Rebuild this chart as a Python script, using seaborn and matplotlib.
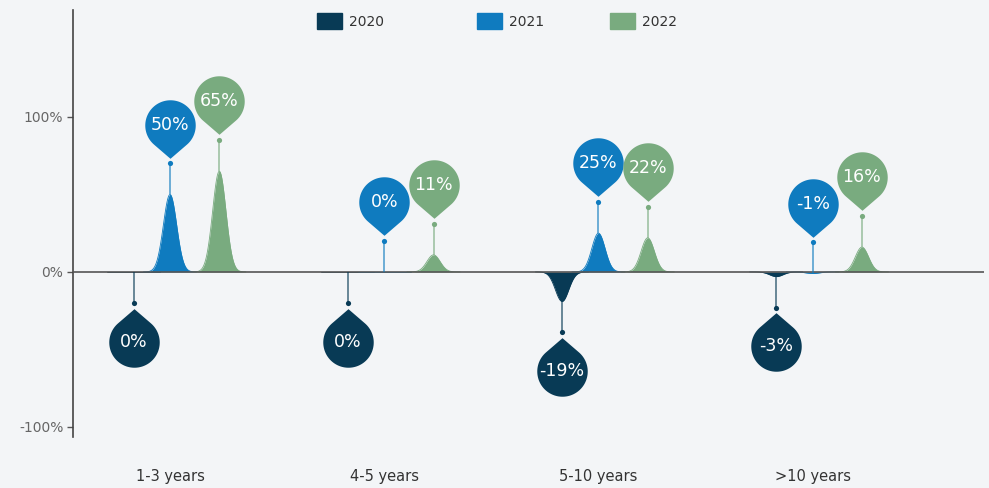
import numpy as np
import pandas as pd
import seaborn as sns
import matplotlib
matplotlib.use("Agg")
import matplotlib.pyplot as plt
from matplotlib.path import Path
from matplotlib.patches import Patch

# data
groups = ["1-3 years", "4-5 years", "5-10 years", ">10 years"]
years = ["2020", "2021", "2022"]
v2020 = [0, 0, -19, -3]
v2021 = [50, 0, 25, -1]
v2022 = [65, 11, 22, 16]
values = {"2020": v2020, "2021": v2021, "2022": v2022}

# styling
colors = {"2020": "#083a55", "2021": "#0f7bbf", "2022": "#79ab7f"}
offsets = {"2020": -0.17, "2021": 0.0, "2022": 0.23}
direction = {"2020": -1, "2021": 1, "2022": 1}   # balloon goes down for 2020
legend_x = {"2020": 0.316, "2021": 0.478, "2022": 0.612}
bg = "#f3f5f7"
sigma = 0.031
balloon_off = 45
dot_off = 20

sns.set_theme(style="white", rc={"figure.facecolor": bg, "axes.facecolor": bg})
plt.rcParams["font.family"] = ["DejaVu Sans"]


def drop_path(flip=False):
    # circle of radius 1 with a point sticking out at distance 1.32
    d = 1.32
    a = np.degrees(np.arccos(1 / d))
    ang = np.radians(np.linspace(-90 + a, 270 - a, 80))
    verts = np.column_stack([np.cos(ang), np.sin(ang)])
    verts = np.vstack([[0, -d], verts, [0, -d]])
    if flip:
        verts[:, 1] *= -1
    return Path(verts, closed=True)


up_drop = drop_path()
down_drop = drop_path(flip=True)

# bell curves for every bar
rows = []
for yr in years:
    for i, v in enumerate(values[yr]):
        xc = i + offsets[yr]
        xs = np.linspace(xc - 4 * sigma, xc + 4 * sigma, 120)
        ys = v * np.exp(-0.5 * ((xs - xc) / sigma) ** 2)
        for x, y in zip(xs, ys):
            rows.append({"x": x, "y": y, "year": yr, "key": f"{yr}-{i}"})
curves = pd.DataFrame(rows)

fig = plt.figure(figsize=(9.89, 4.88), dpi=100)
ax = fig.add_axes([0.0738, 0.1045, 0.9212, 0.875])

sns.lineplot(data=curves, x="x", y="y", hue="year", units="key", estimator=None,
             palette=colors, legend=False, lw=0.6, ax=ax, zorder=2)
for key, part in curves.groupby("key"):
    ax.fill_between(part["x"], 0, part["y"], color=colors[part["year"].iloc[0]],
                    lw=0, zorder=2)

ax.axhline(0, color="#555555", lw=1.2, zorder=3)

for yr in years:
    c = colors[yr]
    d = direction[yr]
    for i, v in enumerate(values[yr]):
        x = i + offsets[yr]
        ax.plot([x, x], [v, v + d * dot_off], color=c, lw=1.1, alpha=0.75,
                zorder=3, solid_capstyle="butt")
        ax.scatter([x], [v + d * dot_off], s=14, color=c, lw=0, zorder=4)
        ax.scatter([x], [v + d * balloon_off], s=2300,
                   marker=up_drop if d > 0 else down_drop,
                   color=c, lw=0, zorder=5)
        ax.text(x, v + d * balloon_off, f"{v}%", color="white", fontsize=12.5,
                fontweight="medium", ha="center", va="center", zorder=6)

ax.set_xlim(-0.453, 3.80)
ax.set_ylim(-106.5, 169)
ax.set_xticks(range(len(groups)))
ax.set_xticklabels(groups, fontsize=10.5, color="#333333")
ax.set_yticks([-100, 0, 100])
ax.set_yticklabels(["-100%", "0%", "100%"], fontsize=10, color="#666666")
ax.tick_params(axis="x", length=0, pad=23)
ax.tick_params(axis="y", length=4, width=1, color="#555555", pad=3, left=True)
ax.set_xlabel("")
ax.set_ylabel("")
for s in ["top", "right", "bottom"]:
    ax.spines[s].set_visible(False)
ax.spines["left"].set_color("#444444")
ax.spines["left"].set_linewidth(1.2)

# one legend entry per year, placed like the original
for yr in years:
    leg = fig.legend([Patch(facecolor=colors[yr], edgecolor=colors[yr])], [yr],
                     loc="upper left", bbox_to_anchor=(legend_x[yr] - 0.008, 0.998),
                     frameon=False, fontsize=10, handlelength=1.8,
                     handleheight=1.3, handletextpad=0.5, labelcolor="#333333")

fig.savefig("out.png", dpi=100, facecolor=bg)
